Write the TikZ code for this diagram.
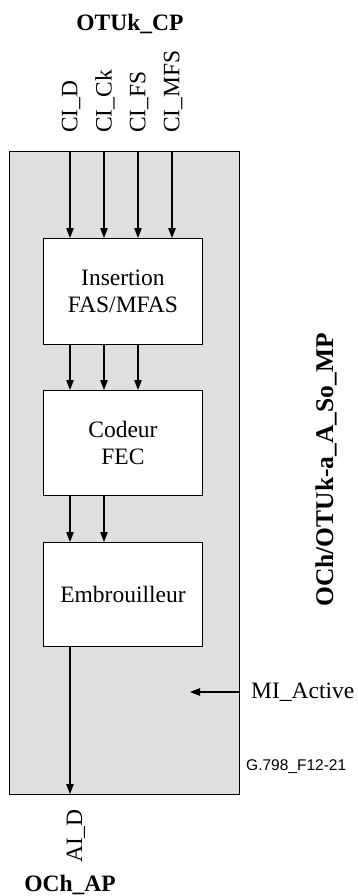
\documentclass[tikz,border=0pt]{standalone}
\usepackage{fontspec}
\setmainfont{Liberation Serif}
\newfontfamily\arialfont{Liberation Sans}
\usetikzlibrary{arrows.meta}
\definecolor{boxgray}{HTML}{DFDFDF}
\tikzset{
  x=1pt, y=-1pt,
  sig/.style={line width=1.1pt, -{Triangle[length=10pt,width=7.5pt]}},
  blk/.style={draw, line width=0.9pt, fill=white},
  lbl/.style={font=\fontsize{23.5}{27.5}\selectfont, inner sep=0pt},
  blbl/.style={font=\fontsize{23.5}{27}\selectfont\bfseries, inner sep=0pt},
  vlbl/.style={lbl, rotate=90, anchor=west},
}
\begin{document}
\begin{tikzpicture}
\useasboundingbox (0,0) rectangle (358,896);
% outer gray box
\path[draw, line width=0.9pt, fill=boxgray] (9.5,151.5) rectangle (239,794);
% blocks
\node[blk, minimum width=159pt, minimum height=106pt, anchor=north west, inner sep=0pt] (ins) at (43,238) {};
\node[lbl, align=center] at (ins.center) {Insertion\\FAS/MFAS};
\node[blk, minimum width=159pt, minimum height=105pt, anchor=north west, inner sep=0pt] (cod) at (43,390) {};
\node[lbl, align=center] at (cod.center) {Codeur\\FEC};
\node[blk, minimum width=159pt, minimum height=104pt, anchor=north west, inner sep=0pt] (emb) at (43,542) {};
\node[lbl] at (emb.center) {Embrouilleur};
% top coordinates
\foreach \i/\x in {1/70,2/104,3/138,4/172} {
  \coordinate (t\i) at (\x,151.5);
}
\foreach \i in {1,2,3,4} {
  \draw[sig] (t\i) -- (t\i |- ins.north);
}
\foreach \x in {70,104,138} {
  \draw[sig] (\x,344) -- (\x,390);
}
\foreach \x in {70,104} {
  \draw[sig] (\x,495) -- (\x,542);
}
\coordinate (bot) at (70,794);
\draw[sig] (70,646) -- (bot);
% CI labels
\node[vlbl] (cid) at (71,133) {CI\_D};
\node[vlbl] (cick) at (105,133) {CI\_Ck};
\node[vlbl] (cifs) at (139,133) {CI\_FS};
\node[vlbl] (cimfs) at (173,133) {CI\_MFS};
\node[vlbl] (aid) at (76,863) {AI\_D};
% titles
\node[blbl] (otuk) at (130,24) {OTUk\_CP};
\node[blbl] (och) at (70,885) {OCh\_AP};
\node[blbl, font=\fontsize{25.5}{28}\selectfont\bfseries, rotate=90] (mp) at (326,470) {OCh/OTUk-a\_A\_So\_MP};
% MI Active
\coordinate (mis) at (239,692);
\coordinate (mie) at (190,692);
\draw[sig] (mis) -- (mie);
\node[lbl, anchor=west] (mi) at (251,692) {MI\_Active};
\node[font=\arialfont\fontsize{15.5}{18}\selectfont, inner sep=0pt, anchor=west] (fig) at (246,767) {G.798\_F12-21};
\end{tikzpicture}
\end{document}
